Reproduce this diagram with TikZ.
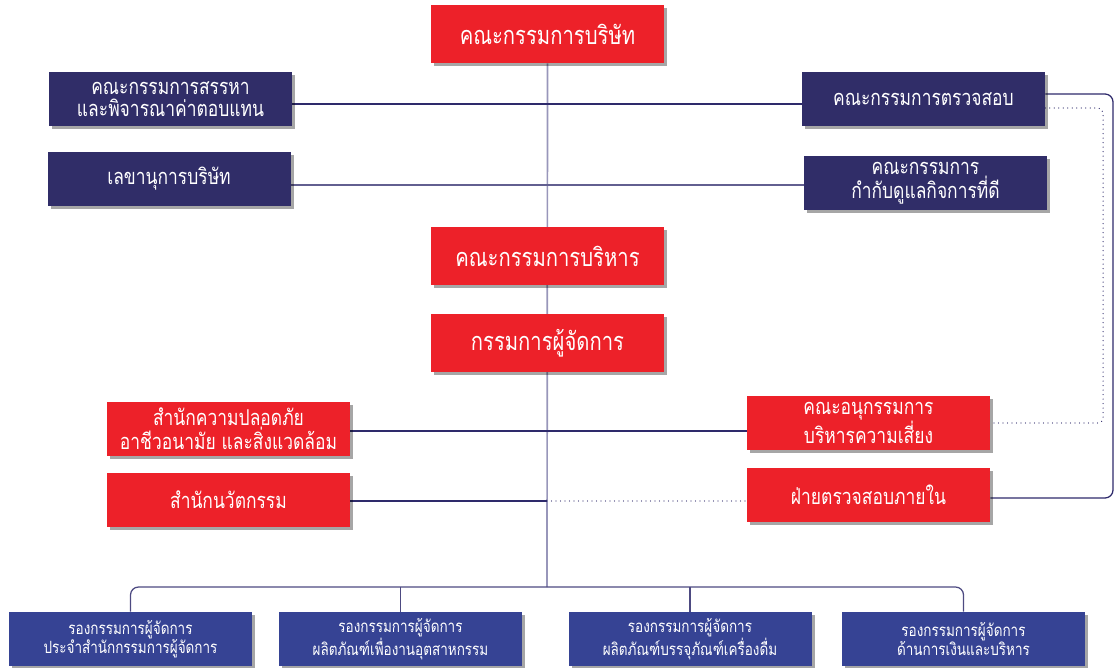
\documentclass[tikz,border=0pt]{standalone}
\usepackage{fontspec}
\newfontfamily\thaifont[Script=Thai, FakeStretch=0.8]{Loma}
\usetikzlibrary{positioning, shadows, backgrounds}

\definecolor{boardred}{HTML}{ED2129}
\definecolor{committeenavy}{HTML}{302D68}
\definecolor{vpblue}{HTML}{364394}
\definecolor{spinegray}{HTML}{9896BA}
\definecolor{linknavy}{HTML}{2E2A6B}

\def\px{0.025cm}

\tikzset{
	orgbox/.style={align=center, text=white, inner sep=2pt,
		minimum width=243*\px, minimum height=54*\px,
		drop shadow={shadow xshift=3*\px, shadow yshift=-3*\px, fill=black, opacity=0.35}},
	redbox/.style={orgbox, fill=boardred, font=\thaifont\fontsize{15.5}{16}\selectfont},
	headbox/.style={orgbox, fill=boardred, minimum width=233*\px, minimum height=58*\px,
		font=\thaifont\fontsize{18}{20}\selectfont},
	navybox/.style={orgbox, fill=committeenavy, font=\thaifont\fontsize{15.5}{16}\selectfont},
	vpbox/.style={orgbox, fill=vpblue, font=\thaifont\fontsize{12}{14}\selectfont},
	link/.style={linknavy, line width=0.9pt},
	dotlink/.style={linknavy, line width=0.9pt, line cap=round, dash pattern=on 0pt off 3.2pt},
}

\begin{document}
\begin{tikzpicture}[x=\px, y=-\px]
	\useasboundingbox (0,0) rectangle (1115,668);

	% Board and committees
	\node[headbox] (board) at (547.5,34) {คณะกรรมการบริษัท};
	\node[navybox] (nomination) at (170.5,99) {คณะกรรมการสรรหา\\และพิจารณาค่าตอบแทน};
	\node[navybox] (audit) at (923.5,99) {คณะกรรมการตรวจสอบ};
	\node[navybox] (secretary) at (169,179) {เลขานุการบริษัท};
	\node[navybox] (governance) at (925.5,183) {คณะกรรมการ\\กำกับดูแลกิจการที่ดี};

	% Executive line
	\node[headbox] (executive) at (547.5,256) {คณะกรรมการบริหาร};
	\node[headbox] (md) at (547.5,343) {กรรมการผู้จัดการ};

	% Offices under the managing director
	\node[redbox] (safety) at (228.5,429) {สำนักความปลอดภัย\\อาชีวอนามัย และสิ่งแวดล้อม};
	\node[redbox] (risk) at (868.5,423) {คณะอนุกรรมการ\\บริหารความเสี่ยง};
	\node[redbox] (innovation) at (228.5,500) {สำนักนวัตกรรม};
	\node[redbox] (internal) at (868.5,495) {ฝ่ายตรวจสอบภายใน};

	% Deputy managing directors
	\node[vpbox] (vp1) at (130.5,639) {รองกรรมการผู้จัดการ\\ประจำสำนักกรรมการผู้จัดการ};
	\node[vpbox] (vp2) at (400.5,639) {รองกรรมการผู้จัดการ\\ผลิตภัณฑ์เพื่องานอุตสาหกรรม};
	\node[vpbox] (vp3) at (690,639) {รองกรรมการผู้จัดการ\\ผลิตภัณฑ์บรรจุภัณฑ์เครื่องดื่ม};
	\node[vpbox] (vp4) at (963.5,639) {รองกรรมการผู้จัดการ\\ด้านการเงินและบริหาร};

	\coordinate (bus) at (547,587);
	\coordinate (auditturn) at (1113,94);
	\coordinate (riskturn) at (1103,108);

	\begin{scope}[on background layer]
		% Main spine
		\draw[spinegray, line width=1.2pt] (board.south) -- (bus);

		% Side links
		\draw[link] (nomination.east |- 0,104) -- (audit.west |- 0,104);
		\draw[link, linknavy!75] (secretary.east |- 0,185) -- (governance.west |- 0,185);
		\draw[link] (safety.east |- 0,431) -- (risk.west |- 0,431);
		\draw[link] (innovation.east |- 0,501) -- (bus |- 0,501);
		\draw[dotlink] (bus |- 0,501) -- (internal.west |- 0,501);

		% Audit committee reporting lines
		\draw[link, rounded corners=8*\px] (audit.east |- auditturn) -- (auditturn) |- (internal.east |- 0,498);
		\draw[dotlink, rounded corners=5*\px] (audit.east |- riskturn) -- (riskturn) |- (risk.east |- 0,423);

		% Bus to deputies
		\draw[link, linknavy!85, rounded corners=8*\px] (vp1.north) |- (bus) -| (vp4.north);
		\foreach \vp in {vp2, vp3}
			\draw[link, linknavy!85] (\vp.north) -- (\vp.north |- bus);
	\end{scope}
\end{tikzpicture}
\end{document}
